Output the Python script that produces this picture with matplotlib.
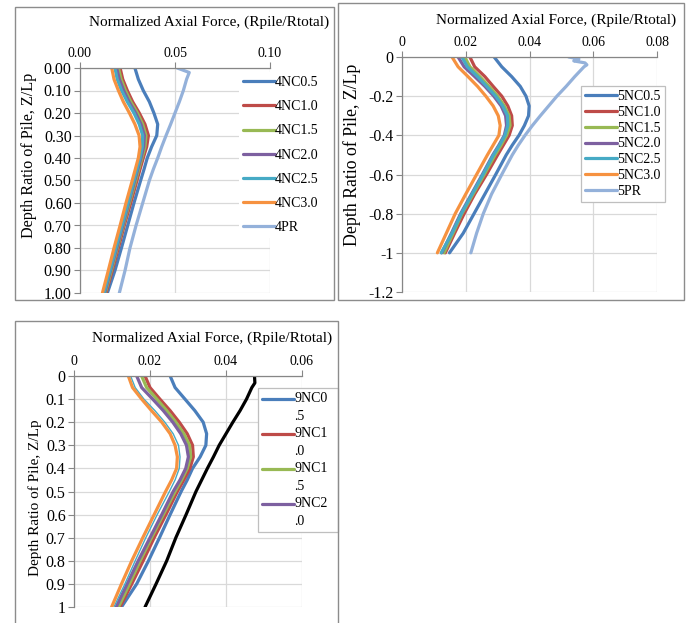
import numpy as np
import matplotlib
matplotlib.use('Agg')
import matplotlib.pyplot as plt
from matplotlib.patches import Rectangle
from matplotlib.legend_handler import HandlerLine2D

plt.rcParams['font.family'] = ['Liberation Serif', 'DejaVu Serif']
plt.rcParams['axes.unicode_minus'] = False

# --- DATA ---
# depth ratio points shared by the NC curves
z_nc = [0, 0.05, 0.1, 0.15, 0.2, 0.25, 0.3, 0.35, 0.4, 0.45, 0.5, 0.6, 0.7, 0.8, 0.9, 1.0]

# panel 4 (top left)
labels_4 = ['4NC0.5', '4NC1.0', '4NC1.5', '4NC2.0', '4NC2.5', '4NC3.0']
nc_4 = [
    [0.0289, 0.0307, 0.0333, 0.0365, 0.0389, 0.0409, 0.0404, 0.0377, 0.0354, 0.0337, 0.0319, 0.0284, 0.0251, 0.0218, 0.0184, 0.0144],
    [0.0211, 0.0225, 0.0249, 0.0277, 0.0312, 0.0342, 0.0360, 0.0351, 0.0333, 0.0316, 0.0300, 0.0267, 0.0233, 0.0202, 0.0170, 0.0137],
    [0.0202, 0.0216, 0.0239, 0.0267, 0.0302, 0.0330, 0.0347, 0.0342, 0.0326, 0.0309, 0.0293, 0.0260, 0.0228, 0.0196, 0.0165, 0.0133],
    [0.0193, 0.0207, 0.0230, 0.0258, 0.0293, 0.0321, 0.0339, 0.0335, 0.0321, 0.0304, 0.0288, 0.0256, 0.0225, 0.0193, 0.0161, 0.0130],
    [0.0184, 0.0196, 0.0219, 0.0249, 0.0284, 0.0312, 0.0330, 0.0328, 0.0316, 0.0300, 0.0284, 0.0253, 0.0221, 0.0189, 0.0158, 0.0126],
    [0.0167, 0.0179, 0.0202, 0.0228, 0.0260, 0.0289, 0.0311, 0.0316, 0.0307, 0.0291, 0.0275, 0.0242, 0.0211, 0.0179, 0.0149, 0.0118],
]
z_4pr = [0, 0.02, 0.05, 0.1, 0.15, 0.2, 0.25, 0.3, 0.35, 0.4, 0.45, 0.5, 0.6, 0.7, 0.8, 0.9, 1.0]
pr_4 = [0.0512, 0.0575, 0.0561, 0.0544, 0.0523, 0.0500, 0.0477, 0.0453, 0.0430, 0.0409, 0.0386, 0.0365, 0.0330, 0.0295, 0.0263, 0.0237, 0.0207]

# panel 5 (top right, depth plotted negative)
labels_5 = ['5NC0.5', '5NC1.0', '5NC1.5', '5NC2.0', '5NC2.5', '5NC3.0']
nc_5 = [
    [0.0289, 0.0313, 0.0344, 0.0371, 0.0389, 0.0399, 0.0397, 0.0384, 0.0367, 0.0346, 0.0327, 0.0294, 0.0260, 0.0226, 0.0192, 0.0149],
    [0.0213, 0.0228, 0.0260, 0.0286, 0.0313, 0.0332, 0.0344, 0.0346, 0.0336, 0.0318, 0.0300, 0.0265, 0.0228, 0.0195, 0.0165, 0.0136],
    [0.0197, 0.0213, 0.0244, 0.0273, 0.0300, 0.0321, 0.0336, 0.0339, 0.0328, 0.0311, 0.0292, 0.0258, 0.0223, 0.0188, 0.0160, 0.0132],
    [0.0176, 0.0195, 0.0228, 0.0260, 0.0288, 0.0311, 0.0325, 0.0328, 0.0321, 0.0304, 0.0285, 0.0252, 0.0218, 0.0184, 0.0155, 0.0125],
    [0.0188, 0.0205, 0.0237, 0.0266, 0.0294, 0.0316, 0.0331, 0.0332, 0.0323, 0.0306, 0.0287, 0.0254, 0.0220, 0.0186, 0.0157, 0.0123],
    [0.0157, 0.0176, 0.0207, 0.0237, 0.0263, 0.0286, 0.0302, 0.0308, 0.0304, 0.0286, 0.0268, 0.0234, 0.0200, 0.0167, 0.0139, 0.0111],
]
z_5pr = [0, 0.01, 0.02, 0.03, 0.04, 0.05, 0.1, 0.15, 0.2, 0.25, 0.3, 0.35, 0.4, 0.45, 0.5, 0.6, 0.7, 0.8, 0.9, 1.0]
pr_5 = [0.0523, 0.0555, 0.0539, 0.0574, 0.0580, 0.0571, 0.0542, 0.0515, 0.0486, 0.0460, 0.0434, 0.0409, 0.0386, 0.0365, 0.0346, 0.0313, 0.0281, 0.0255, 0.0234, 0.0216]

# panel 9 (bottom)
labels_9 = ['9NC0\n.5', '9NC1\n.0', '9NC1\n.5', '9NC2\n.0', '9NC2\n.5', '9NC3\n.0']
nc_9 = [
    [0.0253, 0.0266, 0.0292, 0.0318, 0.0340, 0.0349, 0.0347, 0.0332, 0.0312, 0.0298, 0.0282, 0.0253, 0.0225, 0.0196, 0.0165, 0.0125],
    [0.0187, 0.0200, 0.0226, 0.0253, 0.0277, 0.0298, 0.0312, 0.0314, 0.0305, 0.0289, 0.0272, 0.0242, 0.0211, 0.0182, 0.0152, 0.0121],
    [0.0178, 0.0191, 0.0218, 0.0244, 0.0268, 0.0289, 0.0304, 0.0307, 0.0298, 0.0283, 0.0266, 0.0235, 0.0204, 0.0174, 0.0146, 0.0117],
    [0.0165, 0.0178, 0.0207, 0.0235, 0.0260, 0.0281, 0.0296, 0.0301, 0.0294, 0.0279, 0.0261, 0.0231, 0.0200, 0.0169, 0.0140, 0.0111],
    [0.0149, 0.0161, 0.0184, 0.0213, 0.0239, 0.0261, 0.0275, 0.0279, 0.0277, 0.0266, 0.0251, 0.0219, 0.0189, 0.0161, 0.0134, 0.0105],
    [0.0143, 0.0154, 0.0178, 0.0204, 0.0231, 0.0253, 0.0266, 0.0272, 0.0270, 0.0257, 0.0241, 0.0211, 0.0181, 0.0152, 0.0125, 0.0099],
]
z_9pr = [0, 0.03, 0.05, 0.1, 0.15, 0.2, 0.25, 0.3, 0.35, 0.4, 0.45, 0.5, 0.6, 0.7, 0.8, 0.9, 1.0]
pr_9 = [0.0475, 0.0476, 0.0468, 0.0454, 0.0437, 0.0418, 0.0400, 0.0382, 0.0367, 0.0351, 0.0336, 0.0321, 0.0295, 0.0268, 0.0244, 0.0216, 0.0187]

COLORS = ['#4A7EBB', '#BE4B48', '#98B954', '#7D60A0', '#46AAC5', '#F69240']
PR_LIGHT = '#94B1DA'
GRID = '#D9D9D9'
AXC = '#868686'
XTITLE = 'Normalized Axial Force, (Rpile/Rtotal)'
YTITLE = 'Depth Ratio of Pile, Z/Lp'

W, H = 692, 623
fig = plt.figure(figsize=(W / 100, H / 100), dpi=100)


def px_axes(x0, y0, x1, y1):
    return fig.add_axes([x0 / W, 1 - y1 / H, (x1 - x0) / W, (y1 - y0) / H])


def fx(x):
    return x / W


def fy(y):
    return 1 - y / H


def style(ax, xt, xl, yt, yl):
    ax.set_xticks(xt)
    ax.set_xticklabels(xl, fontsize=10)
    ax.set_yticks(yt)
    ax.set_yticklabels(yl, fontsize=11.5)
    ax.xaxis.tick_top()
    ax.tick_params(axis='x', colors=AXC, labelcolor='black', length=4, width=0.8, pad=2)
    ax.tick_params(axis='y', colors=AXC, labelcolor='black', length=4, width=0.8, pad=2)
    for s in ['right', 'bottom']:
        ax.spines[s].set_visible(False)
    for s in ['top', 'left']:
        ax.spines[s].set_color(AXC)
        ax.spines[s].set_linewidth(0.9)
    ax.grid(True, color=GRID, lw=0.9)
    ax.set_axisbelow(True)


class FirstLineHandler(HandlerLine2D):
    # keep the legend line level with the first line of a two-line label
    def create_artists(self, legend, orig_handle, xdescent, ydescent, width, height, fontsize, trans):
        arts = super().create_artists(legend, orig_handle, xdescent, ydescent, width, height, fontsize, trans)
        for a in arts:
            a.set_ydata([y + 6.2 for y in a.get_ydata()])
        return arts


# panel frames
for (x0, y0, x1, y1) in [(15, 7, 334, 300), (338, 3, 684, 300), (15, 321, 338, 640)]:
    fig.patches.append(Rectangle((fx(x0), fy(y1)), fx(x1) - fx(x0), fy(y0) - fy(y1),
                                 transform=fig.transFigure, fill=False, ec='#8C8C8C', lw=1.0))

LW = 2.3

# --- top left ---
ax1 = px_axes(80, 68, 270, 293)
for lab, xs, c in zip(labels_4, nc_4, COLORS):
    ax1.plot(xs, z_nc, color=c, lw=LW, label=lab, solid_capstyle='round')
ax1.plot(pr_4, z_4pr, color=PR_LIGHT, lw=LW, label='4PR', solid_capstyle='round')
ax1.set_xlim(0, 0.10)
ax1.set_ylim(1.0, 0.0)
style(ax1, [0, 0.05, 0.10], ['0.00', '0.05', '0.10'],
      np.arange(0, 1.01, 0.1), ['%.2f' % v for v in np.arange(0, 1.01, 0.1)])
ax1.legend(loc='upper left', bbox_to_anchor=(fx(239), fy(72)), bbox_transform=fig.transFigure,
           fontsize=10, frameon=True, fancybox=False, edgecolor='none', framealpha=1,
           handlelength=2.3, handletextpad=0.0, labelspacing=0.8, borderpad=0.3, borderaxespad=0)
fig.text(fx(209), fy(22), XTITLE, ha='center', va='center', fontsize=11)
fig.text(fx(29), fy(155), YTITLE, ha='center', va='center', rotation=90, fontsize=11.6)

# --- top right ---
ax2 = px_axes(402, 57, 657, 292)
for lab, xs, c in zip(labels_5, nc_5, COLORS):
    ax2.plot(xs, [-v for v in z_nc], color=c, lw=LW, label=lab, solid_capstyle='round')
ax2.plot(pr_5, [-v for v in z_5pr], color=PR_LIGHT, lw=LW, label='5PR', solid_capstyle='round')
ax2.set_xlim(0, 0.08)
ax2.set_ylim(-1.2, 0)
style(ax2, [0, 0.02, 0.04, 0.06, 0.08], ['0', '0.02', '0.04', '0.06', '0.08'],
      [0, -0.2, -0.4, -0.6, -0.8, -1.0, -1.2], ['0', '-0.2', '-0.4', '-0.6', '-0.8', '-1', '-1.2'])
leg2 = ax2.legend(loc='upper left', bbox_to_anchor=(fx(581), fy(86)), bbox_transform=fig.transFigure,
                  fontsize=10, frameon=True, fancybox=False, edgecolor='#BFBFBF', framealpha=1,
                  handlelength=2.3, handletextpad=0.0, labelspacing=0.2, borderpad=0.3, borderaxespad=0)
leg2.get_frame().set_linewidth(0.9)
fig.text(fx(556), fy(20), XTITLE, ha='center', va='center', fontsize=11)
fig.text(fx(352), fy(155), YTITLE, ha='center', va='center', rotation=90, fontsize=12.8)

# --- bottom ---
ax3 = px_axes(74, 376, 302, 607)
for i, (lab, xs, c) in enumerate(zip(labels_9, nc_9, COLORS)):
    ax3.plot(xs, z_nc, color=c, lw=1.0 if i == 4 else LW, label=lab, solid_capstyle='round')
ax3.plot(pr_9, z_9pr, color='black', lw=LW, label='9PR', solid_capstyle='round')
ax3.set_xlim(0, 0.06)
ax3.set_ylim(1.0, 0.0)
style(ax3, [0, 0.02, 0.04, 0.06], ['0', '0.02', '0.04', '0.06'],
      np.arange(0, 1.01, 0.1), ['0', '0.1', '0.2', '0.3', '0.4', '0.5', '0.6', '0.7', '0.8', '0.9', '1'])
h, l = ax3.get_legend_handles_labels()
leg3 = ax3.legend(h[:4], l[:4], loc='upper left',
                  bbox_to_anchor=(fx(258), fy(528), fx(338) - fx(258), fy(388) - fy(528)),
                  mode='expand', bbox_transform=fig.transFigure, fontsize=10, frameon=True,
                  fancybox=False, edgecolor='#BFBFBF', framealpha=1, handlelength=2.3,
                  handletextpad=0.0, labelspacing=0.28, borderpad=0.3, borderaxespad=0,
                  handler_map={matplotlib.lines.Line2D: FirstLineHandler()})
leg3.get_frame().set_linewidth(0.9)
for t in leg3.get_texts():
    t.set_linespacing(1.5)
fig.text(fx(212), fy(338), XTITLE, ha='center', va='center', fontsize=11)
fig.text(fx(35), fy(498), YTITLE, ha='center', va='center', rotation=90, fontsize=11)

fig.savefig('out.png', dpi=100, facecolor='white')
